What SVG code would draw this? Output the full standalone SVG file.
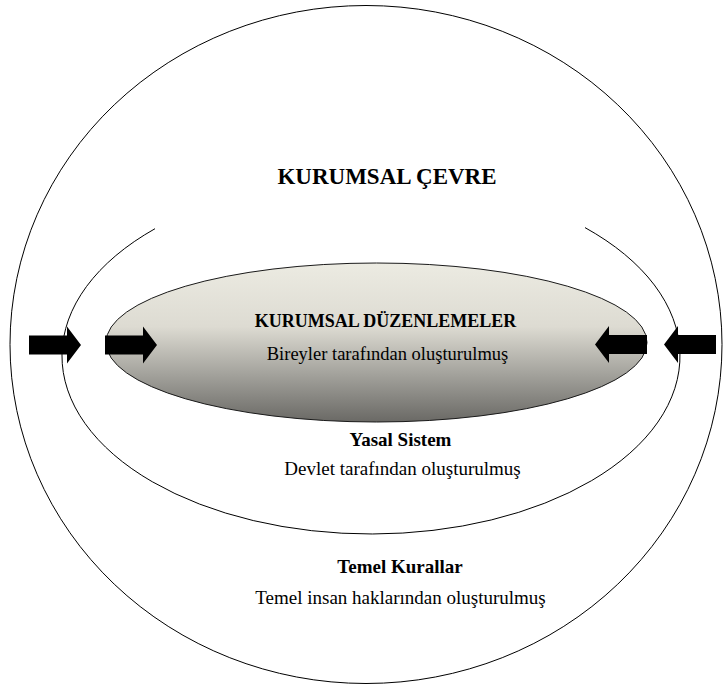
<svg xmlns="http://www.w3.org/2000/svg" width="724" height="686" viewBox="0 0 724 686">
  <style>
    .ring { fill: none; stroke: #000; stroke-width: 1; }
    .core { stroke: #1a1a1a; stroke-width: 1; }
    .arrow { fill: #000; }
    text { font-family: "Liberation Serif", "Times New Roman", serif; fill: #000; text-anchor: middle; }
    .title { font-size: 23px; font-weight: bold; }
    .head { font-size: 19px; font-weight: bold; }
    .sub { font-size: 19px; }
    .core-head { font-size: 18px; font-weight: bold; }
    .core-sub { font-size: 18.5px; }
  </style>
  <defs>
    <linearGradient id="coreFill" x1="0" y1="0" x2="0" y2="1">
      <stop offset="0" stop-color="#ecebe2"/>
      <stop offset="0.4" stop-color="#dddbd2"/>
      <stop offset="0.7" stop-color="#a3a29c"/>
      <stop offset="1" stop-color="#6a6965"/>
    </linearGradient>
    <!-- block arrow pointing right, tip at origin -->
    <path id="blockArrow" d="M-52,-9.5 H-14 V-18.5 L0,0 L-14,18.5 V9.5 H-52 Z"/>
  </defs>

  <!-- outer ring: institutional environment -->
  <g id="kurumsal-cevre">
    <ellipse class="ring" cx="366" cy="344.5" rx="356" ry="339"/>
    <text class="title" x="387" y="184">KURUMSAL ÇEVRE</text>
  </g>

  <!-- outer ring body text -->
  <g id="temel-kurallar">
    <text class="head" x="400" y="573">Temel Kurallar</text>
    <text class="sub" x="400.5" y="604">Temel insan haklarından oluşturulmuş</text>
  </g>

  <!-- middle ring: legal system, open at the top -->
  <g id="yasal-sistem">
    <path class="ring" d="M155,228.7 A309,178 0 1,0 585,227.6"/>
    <text class="head" x="400.5" y="446">Yasal Sistem</text>
    <text class="sub" x="402.5" y="475">Devlet tarafından oluşturulmuş</text>
  </g>

  <!-- core: institutional arrangements -->
  <g id="kurumsal-duzenlemeler">
    <ellipse class="core" cx="376.5" cy="342.5" rx="270.5" ry="79.5" fill="url(#coreFill)"/>
    <text class="core-head" x="385.5" y="327">KURUMSAL DÜZENLEMELER</text>
    <text class="core-sub" x="387.5" y="360">Bireyler tarafından oluşturulmuş</text>
  </g>

  <!-- inward pressure arrows -->
  <g id="connectors">
    <use href="#blockArrow" class="arrow" transform="translate(81,345)"/>
    <use href="#blockArrow" class="arrow" transform="translate(157,345)"/>
    <use href="#blockArrow" class="arrow" transform="translate(595,344.5) scale(-1,1)"/>
    <use href="#blockArrow" class="arrow" transform="translate(664,344.5) scale(-1,1)"/>
  </g>
</svg>
